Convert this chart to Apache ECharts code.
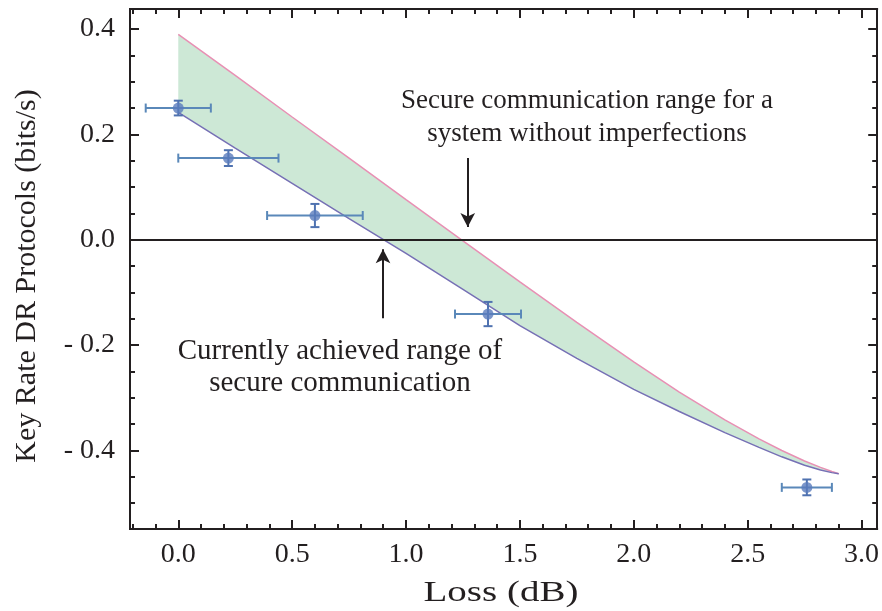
<!DOCTYPE html>
<html><head><meta charset="utf-8">
<script src="https://cdn.jsdelivr.net/npm/echarts@6/dist/echarts.min.js"></script>
<style>html,body{margin:0;padding:0;background:#fff}#c{width:882px;height:611px}</style>
</head><body><div id="c"></div>
<script>
// ---- data ----
const curveX    = [0, 0.25, 0.5, 0.75, 1.0, 1.25, 1.5, 1.75, 2.0, 2.2, 2.4, 2.55, 2.65, 2.75, 2.82, 2.87, 2.9];
const lowerRate = [0.242, 0.174, 0.107, 0.040, -0.026, -0.094, -0.163, -0.225, -0.284, -0.326, -0.366, -0.394, -0.412, -0.428, -0.437, -0.442, -0.444];
const upperRate = [0.390, 0.312, 0.233, 0.155, 0.076, -0.002, -0.080, -0.157, -0.232, -0.289, -0.342, -0.378, -0.400, -0.420, -0.432, -0.440, -0.444];

const expLoss = [0.0, 0.22, 0.60, 1.36, 2.76];
const expRate = [0.250, 0.155, 0.046, -0.141, -0.470];
const lossErr = [0.143, 0.22, 0.21, 0.145, 0.11];
const rateErr = [0.014, 0.015, 0.022, 0.023, 0.015];

const xMajorTicks = [0.0, 0.5, 1.0, 1.5, 2.0, 2.5, 3.0];
const xMinorTicks = [-0.2, -0.1, 0.1, 0.2, 0.3, 0.4, 0.6, 0.7, 0.8, 0.9, 1.1, 1.2, 1.3, 1.4, 1.6, 1.7, 1.8, 1.9, 2.1, 2.2, 2.3, 2.4, 2.6, 2.7, 2.8, 2.9];
const yMajorTicks = [-0.4, -0.2, 0.0, 0.2, 0.4];
const yMinorTicks = [-0.5, -0.45, -0.35, -0.3, -0.25, -0.15, -0.1, -0.05, 0.05, 0.1, 0.15, 0.25, 0.3, 0.35];

const xTitle = 'Loss (dB)';
const yTitle = 'Key Rate DR Protocols (bits/s)';
const note1 = 'Secure communication range for a\nsystem without imperfections';
const note2 = 'Currently achieved range of\nsecure communication';
const arrow1 = [[1.271, 0.155], [1.271, 0.024]];
const arrow2 = [[0.899, -0.149], [0.899, -0.018]];

// ---- chart ----
const X_MIN = -0.212, X_MAX = 3.069, Y_MIN = -0.549, Y_MAX = 0.438;
const INK = '#231f20';
const FONT = 'Liberation Serif';

function xAx(pos, ticks, len, labels) {
  return {
    type: 'value', position: pos, min: X_MIN, max: X_MAX,
    axisLine: { show: true, onZero: false, lineStyle: { color: INK, width: 2 } },
    axisTick: { show: true, inside: true, length: len, customValues: ticks, lineStyle: { color: INK, width: 2 } },
    axisLabel: labels ? { show: true, customValues: ticks, margin: 12, formatter: v => v.toFixed(1),
      fontFamily: FONT, fontSize: 28, color: INK } : { show: false },
    splitLine: { show: false }
  };
}
function yAx(pos, ticks, len, labels) {
  return {
    type: 'value', position: pos, min: Y_MIN, max: Y_MAX,
    axisLine: { show: true, onZero: false, lineStyle: { color: INK, width: 2 } },
    axisTick: { show: true, inside: true, length: len, customValues: ticks, lineStyle: { color: INK, width: 2 } },
    axisLabel: labels ? { show: true, customValues: ticks, margin: 15,
      formatter: v => (v < -1e-9 ? '- ' + Math.abs(v).toFixed(1) : Math.abs(v).toFixed(1)),
      fontFamily: FONT, fontSize: 28, color: INK } : { show: false },
    splitLine: { show: false }
  };
}

const lowerData = curveX.map((x, i) => [x, lowerRate[i]]);
const upperData = curveX.map((x, i) => [x, upperRate[i]]);
const bandData = curveX.map((x, i) => [x, lowerRate[i], upperRate[i]]);
const errData = expLoss.map((x, i) => [x, expRate[i], lossErr[i], rateErr[i]]);
const ptData = expLoss.map((x, i) => [x, expRate[i]]);

const chart = echarts.init(document.getElementById('c'), null, { renderer: 'canvas' });
chart.setOption({
  animation: false,
  backgroundColor: '#fff',
  grid: { left: 130, right: 4, top: 9, bottom: 82, containLabel: false },
  xAxis: [
    xAx('bottom', xMajorTicks, 9, true),
    xAx('bottom', xMinorTicks, 5, false),
    xAx('top', xMajorTicks, 9, false),
    xAx('top', xMinorTicks, 5, false)
  ],
  yAxis: [
    yAx('left', yMajorTicks, 9, true),
    yAx('left', yMinorTicks, 5, false),
    yAx('right', yMajorTicks, 9, false),
    yAx('right', yMinorTicks, 5, false)
  ],
  series: [
    {
      type: 'custom', name: 'band', data: bandData, z: 2, clip: true,
      encode: { x: 0, y: [1, 2] },
      renderItem: function (params, api) {
        if (params.dataIndex !== 0) return null;
        const top = bandData.map(d => api.coord([d[0], d[2]]));
        const bot = bandData.map(d => api.coord([d[0], d[1]])).reverse();
        return { type: 'polygon', shape: { points: top.concat(bot) }, style: { fill: '#cde8d6', stroke: null } };
      }
    },
    {
      type: 'line', name: 'upper', data: upperData,
      showSymbol: false, symbol: 'none',
      lineStyle: { color: '#e890b4', width: 1.5 }, z: 3
    },
    {
      type: 'line', name: 'lower', data: lowerData,
      showSymbol: false, symbol: 'none',
      lineStyle: { color: '#7670b5', width: 1.5 }, z: 3,
      markLine: {
        silent: true, symbol: ['none', 'none'], animation: false,
        label: { show: false },
        lineStyle: { color: INK, width: 2, type: 'solid' },
        data: [{ yAxis: 0 }]
      }
    },
    {
      type: 'line', name: 'arrows', data: [], z: 5,
      markLine: {
        silent: true, symbol: ['none', 'arrow'], symbolSize: [11, 14], animation: false,
        label: { show: false },
        lineStyle: { color: INK, width: 2, type: 'solid' },
        data: [
          [{ coord: arrow1[0] }, { coord: arrow1[1] }],
          [{ coord: arrow2[0] }, { coord: arrow2[1] }]
        ]
      }
    },
    {
      type: 'custom', name: 'err', data: errData, z: 6,
      encode: { x: 0, y: 1 },
      renderItem: function (params, api) {
        const x = api.value(0), y = api.value(1), xe = api.value(2), ye = api.value(3);
        const l = api.coord([x - xe, y]), r = api.coord([x + xe, y]);
        const t = api.coord([x, y + ye]), b = api.coord([x, y - ye]);
        const cap = 4.5;
        const sx = { stroke: '#5a88b9', lineWidth: 2, fill: null };
        const sy = { stroke: '#4f72b0', lineWidth: 2, fill: null };
        return {
          type: 'group', children: [
            { type: 'line', shape: { x1: l[0], y1: l[1], x2: r[0], y2: r[1] }, style: sx },
            { type: 'line', shape: { x1: l[0], y1: l[1] - cap, x2: l[0], y2: l[1] + cap }, style: sx },
            { type: 'line', shape: { x1: r[0], y1: r[1] - cap, x2: r[0], y2: r[1] + cap }, style: sx },
            { type: 'line', shape: { x1: t[0], y1: t[1], x2: b[0], y2: b[1] }, style: sy },
            { type: 'line', shape: { x1: t[0] - cap, y1: t[1], x2: t[0] + cap, y2: t[1] }, style: sy },
            { type: 'line', shape: { x1: b[0] - cap, y1: b[1], x2: b[0] + cap, y2: b[1] }, style: sy }
          ]
        };
      }
    },
    {
      type: 'scatter', name: 'points', data: ptData, z: 7,
      symbol: 'circle', symbolSize: 11,
      itemStyle: { color: '#5a7cbd' }
    }
  ],
  graphic: [
    { type: 'text', x: 587, y: 117, z: 10,
      style: { text: note1, fontFamily: FONT, fontSize: 27, fill: INK, align: 'center', verticalAlign: 'middle',
        textAlign: 'center', textVerticalAlign: 'middle', lineHeight: 33 } },
    { type: 'text', x: 340, y: 367, z: 10,
      style: { text: note2, fontFamily: FONT, fontSize: 29, fill: INK, align: 'center', verticalAlign: 'middle',
        textAlign: 'center', textVerticalAlign: 'middle', lineHeight: 32 } },
    { type: 'text', x: 501, y: 593, z: 10, scaleX: 1.3,
      style: { text: xTitle, fontFamily: FONT, fontSize: 30, fill: INK, align: 'center', verticalAlign: 'middle',
        textAlign: 'center', textVerticalAlign: 'middle' } },
    { type: 'text', x: 27, y: 276, z: 10, rotation: Math.PI / 2,
      style: { text: yTitle, fontFamily: FONT, fontSize: 30, fill: INK, align: 'center', verticalAlign: 'middle',
        textAlign: 'center', textVerticalAlign: 'middle' } }
  ]
});
</script>
</body></html>
